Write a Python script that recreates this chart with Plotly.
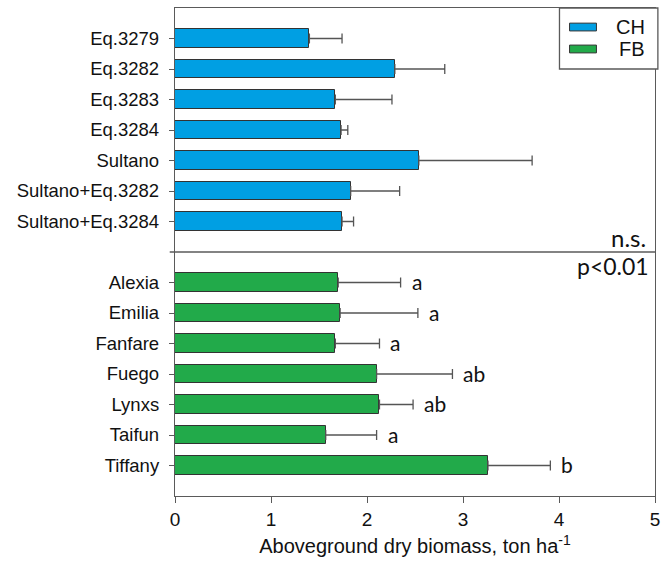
import plotly.graph_objects as go

# Chickpea (CH) genotypes
ch_names = ["Eq.3279", "Eq.3282", "Eq.3283", "Eq.3284", "Sultano",
            "Sultano+Eq.3282", "Sultano+Eq.3284"]
ch_mean = [1.40, 2.29, 1.67, 1.73, 2.54, 1.83, 1.74]
ch_err = [0.34, 0.52, 0.59, 0.07, 1.18, 0.51, 0.12]

# Faba bean (FB) genotypes
fb_names = ["Alexia", "Emilia", "Fanfare", "Fuego", "Lynxs", "Taifun", "Tiffany"]
fb_mean = [1.70, 1.72, 1.67, 2.10, 2.13, 1.57, 3.26]
fb_err = [0.65, 0.81, 0.46, 0.79, 0.35, 0.53, 0.65]
fb_letters = ["a", "a", "a", "ab", "ab", "a", "b"]

x_ticks = [0, 1, 2, 3, 4, 5]

# category slots: 7 CH rows, one empty separator row, 7 FB rows
ch_pos = list(range(len(ch_names)))
sep_pos = len(ch_names)
fb_pos = [sep_pos + 1 + i for i in range(len(fb_names))]

BLUE = "#009FE3"
GREEN = "#22AA4A"
EDGE = "#333333"
ERRC = "#555555"
AXC = "#5a5a5a"
SANS = "Liberation Sans, Arial, sans-serif"

fig = go.Figure()
fig.add_trace(go.Bar(
    y=ch_pos, x=ch_mean, orientation="h", width=0.6, name="CH",
    marker=dict(color=BLUE, line=dict(color=EDGE, width=1)),
    error_x=dict(type="data", array=ch_err, symmetric=False,
                 arrayminus=[0] * len(ch_err), color=ERRC, thickness=1.3, width=5),
    showlegend=False,
))
fig.add_trace(go.Bar(
    y=fb_pos, x=fb_mean, orientation="h", width=0.6, name="FB",
    marker=dict(color=GREEN, line=dict(color=EDGE, width=1)),
    error_x=dict(type="data", array=fb_err, symmetric=False,
                 arrayminus=[0] * len(fb_err), color=ERRC, thickness=1.3, width=5),
    showlegend=False,
))

# significance letters after each FB error bar
for p, m, e, lab in zip(fb_pos, fb_mean, fb_err, fb_letters):
    fig.add_annotation(x=m + e, y=p, text=lab, showarrow=False, xanchor="left",
                       xshift=9, yshift=1, font=dict(family="Lato", size=21, color="#111"))

# group separator line (also serves as the tick of the empty slot)
fig.add_shape(type="line", xref="paper", x0=-0.011, x1=1, yref="y",
              y0=sep_pos, y1=sep_pos, line=dict(color=AXC, width=1.3))

fig.add_annotation(xref="paper", yref="paper", x=0.985, y=0.530, text="n.s.",
                   showarrow=False, xanchor="right", yanchor="middle",
                   font=dict(family="Lato", size=24, color="#111"))
fig.add_annotation(xref="paper", yref="paper", x=0.992, y=0.472, text="p<0.01",
                   showarrow=False, xanchor="right", yanchor="middle",
                   font=dict(family="Lato", size=23, color="#111"))

# legend box
fig.add_shape(type="rect", xref="paper", yref="paper", x0=0.801, x1=1.006,
              y0=0.875, y1=1.0, line=dict(color=AXC, width=1.3), fillcolor="white")
for yc, col, lab in [(0.961, BLUE, "CH"), (0.916, GREEN, "FB")]:
    fig.add_shape(type="rect", xref="paper", yref="paper", x0=0.822, x1=0.878,
                  y0=yc - 0.008, y1=yc + 0.008, line=dict(color=EDGE, width=1),
                  fillcolor=col)
    fig.add_annotation(xref="paper", yref="paper", x=0.983, y=yc, text=lab,
                       showarrow=False, xanchor="right", yanchor="middle",
                       font=dict(family=SANS, size=20, color="#111"))

fig.update_layout(
    width=667, height=570,
    margin=dict(l=175, r=9, t=7, b=74),
    paper_bgcolor="white", plot_bgcolor="white",
    font=dict(family=SANS, size=18, color="#111"),
    bargap=0,
)
fig.update_xaxes(
    range=[0, 5], tickvals=x_ticks, ticks="outside", ticklen=6, tickcolor=AXC,
    showline=True, linecolor=AXC, linewidth=1.3, mirror=True, showgrid=False,
    zeroline=False, tickfont=dict(size=19),
    title=dict(text="Aboveground dry biomass, ton ha<sup>-1</sup>",
               font=dict(size=20), standoff=10),
)
fig.update_yaxes(
    range=[len(ch_names) + len(fb_names) + 1, -1],
    tickvals=ch_pos + fb_pos,
    ticktext=ch_names + fb_names,
    ticks="outside", ticklen=5, tickcolor=AXC, ticklabelstandoff=6,
    showline=True, linecolor=AXC, linewidth=1.3, mirror=True, showgrid=False,
    zeroline=False, tickfont=dict(size=18.5),
)

fig.write_html("out.html")
